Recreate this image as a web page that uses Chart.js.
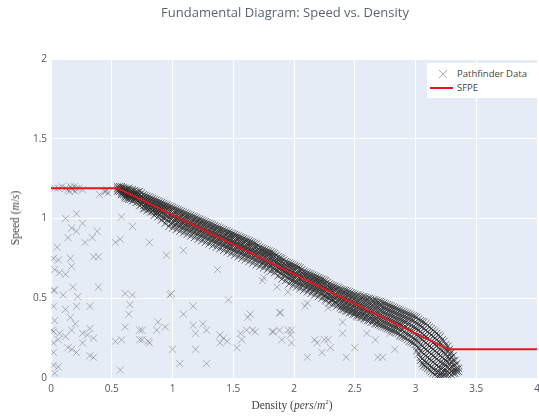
<!DOCTYPE html>
<html>
<head>
<meta charset="utf-8">
<script src="https://cdn.jsdelivr.net/npm/chart.js@4"></script>
<style>
  body { margin: 0; background: #fff; font-family: "Open Sans", sans-serif; }
  #wrap { position: relative; width: 539px; height: 419px; overflow: hidden; }
  #chart { position: absolute; left: 0; top: 0; }
  .title { position: absolute; top: 3px; left: 285px; transform: translateX(-50%); font-size: 13px; color: #5a6470; white-space: nowrap; }
  .xtitle { position: absolute; top: 398px; left: 292px; transform: translateX(-50%); font-family: "Liberation Serif", serif; font-size: 11.5px; color: #444; white-space: nowrap; }
  .ytitle { position: absolute; left: 15px; top: 218px; transform: translate(-50%, -50%) rotate(-90deg); font-family: "Liberation Serif", serif; font-size: 11.5px; color: #444; white-space: nowrap; }
  .xtitle i, .ytitle i { font-style: italic; }
  .legend { position: absolute; left: 427px; top: 63px; width: 112px; height: 35px; background: #fff; font-size: 9.5px; color: #444; }
  .legend .row { position: absolute; left: 0; height: 14px; line-height: 14px; }
  .legend span { position: absolute; left: 30px; white-space: nowrap; }
  .legend svg { position: absolute; left: 3px; top: 0; }
</style>
</head>
<body>
<div id="wrap">
  <canvas id="chart" width="543" height="419"></canvas>
  <div class="title">Fundamental Diagram: Speed vs. Density</div>
  <div class="xtitle">Density (<i>pers</i>/<i>m</i><sup style="font-size:7px">2</sup>)</div>
  <div class="ytitle">Speed (<i>m</i>/<i>s</i>)</div>
  <div class="legend">
    <div class="row" style="top:4px"><svg width="24" height="14"><path d="M9 3 L17 11 M17 3 L9 11" stroke="rgba(90,90,90,0.5)" stroke-width="1"/></svg><span>Pathfinder Data</span></div>
    <div class="row" style="top:18px"><svg width="24" height="14"><path d="M0 7 L23 7" stroke="#e8141c" stroke-width="2"/></svg><span>SFPE</span></div>
  </div>
</div>
<script>
// axis ticks
const xTicks = [0, 0.5, 1, 1.5, 2, 2.5, 3, 3.5, 4]
const yTicks = [0, 0.5, 1, 1.5, 2]

// SFPE reference curve
const sfpeDensity = [0, 0.55, 3.27, 4]
const sfpeSpeed = [1.19, 1.19, 0.18, 0.18]

// Pathfinder outliers: [density, speed]
const outlierPoints = [
  [0.03,1.19],[0.06,1.19],[0.09,1.2],[0.12,1.19],[0.14,1.18],[0.16,1.2],[0.17,1.19],[0.18,1.18],[0.19,1.2],
  [0.21,1.19],[0.23,1.19],[0.26,1.18],[0.15,1.17],[0.2,1.17],[0.44,1.17],[0.46,1.18],[0.47,1.16],[0.45,1.17],[0.40,1.15],
  [0.21,1.03],[0.12,1.0],[0.17,0.94],[0.26,0.97],[0.14,0.88],[0.21,0.92],[0.34,0.88],[0.38,0.92],[0.28,0.85],
  [0.05,0.82],[0.02,0.75],[0.06,0.74],[0.16,0.75],[0.17,0.70],[0.03,0.68],[0.07,0.66],[0.12,0.65],[0.35,0.76],
  [0.39,0.76],[0.57,0.87],[0.53,0.85],[0.58,1.01],[0.81,0.85],[0.67,0.95],[0.95,0.77],[1.09,0.80],[0.39,0.57],
  [0.03,0.55],[0.10,0.52],[0.18,0.57],[0.22,0.51],[0.61,0.53],[0.67,0.52],[0.98,0.52],[1.17,0.45],[1.46,0.49],
  [1.37,0.68],[1.89,0.41],[1.64,0.40],[0.02,0.45],[0.12,0.43],[0.21,0.45],[0.32,0.45],[0.16,0.38],[0.20,0.34],
  [0.03,0.36],[0.02,0.29],[0.07,0.28],[0.12,0.26],[0.17,0.30],[0.26,0.28],[0.32,0.31],[0.30,0.27],[0.35,0.25],
  [0.02,0.22],[0.06,0.24],[0.14,0.19],[0.17,0.18],[0.21,0.16],[0.26,0.22],[0.32,0.14],[0.35,0.13],[0.02,0.16],
  [0.02,0.08],[0.06,0.07],[0.03,0.03],[0.61,0.32],[0.64,0.40],[0.65,0.46],[0.53,0.23],[0.58,0.24],[0.73,0.30],
  [0.73,0.24],[0.80,0.23],[0.87,0.30],[0.88,0.35],[0.94,0.32],[1.0,0.18],[1.09,0.40],[1.17,0.33],[1.25,0.34],
  [1.28,0.30],[1.19,0.18],[1.06,0.09],[1.28,0.09],[0.57,0.05],[1.39,0.27],[1.42,0.25],[1.39,0.22],[1.45,0.23],
  [1.53,0.19],[1.56,0.28],[1.57,0.24],[1.61,0.30],[1.68,0.29],[1.83,0.29],[1.88,0.30],[1.90,0.24],[1.75,0.63],
  [0.99,0.53],[1.19,0.28],[1.62,0.38],[1.66,0.30],[1.82,0.29],[1.88,0.41],[1.98,0.30],[1.97,0.27],[1.98,0.22],
  [1.74,0.61],[1.86,0.57],[1.95,0.54],[2.11,0.47],[2.09,0.45],[2.17,0.24],[2.19,0.22],[2.23,0.16],[2.28,0.24],
  [2.30,0.19],[2.11,0.13],[2.40,0.35],[2.40,0.28],[2.43,0.13],[2.26,0.48],[2.28,0.44],[2.05,0.57],[1.95,0.30],
  [2.25,0.24],[2.50,0.19],[2.52,0.38],[2.60,0.28],[2.67,0.24],[2.69,0.13],[2.73,0.13],[2.83,0.18],[2.79,0.28],
  [2.87,0.26],[2.86,0.33],[3.06,0.07],[2.20,0.60],[0.75,0.30],[0.75,0.24],[0.81,0.22],[0.01,0.30],[0.02,0.55]
]

// dense Pathfinder band, one row per density: [density, [speeds...]]
const bandRows = [
  [0.55,[1.20,1.19,1.18,1.17]],[0.565,[1.20,1.185,1.17]],[0.58,[1.20,1.19,1.18,1.17,1.16,1.15]],
  [0.595,[1.195,1.18,1.165,1.15]],[0.61,[1.19,1.18,1.17,1.16,1.15,1.14,1.13]],[0.625,[1.185,1.17,1.155,1.14,1.125]],
  [0.64,[1.19,1.18,1.16,1.15,1.14,1.13,1.12]],[0.655,[1.18,1.165,1.15,1.135,1.12]],[0.67,[1.18,1.17,1.15,1.14,1.13,1.11]],
  [0.685,[1.175,1.16,1.145,1.13,1.115]],[0.70,[1.17,1.16,1.14,1.13,1.12,1.10]],[0.715,[1.165,1.15,1.135,1.12,1.105]],
  [0.73,[1.17,1.15,1.13,1.12,1.10,1.08]],[0.745,[1.16,1.14,1.12,1.105,1.09]],[0.76,[1.15,1.13,1.11,1.10,1.08,1.06]],
  [0.775,[1.145,1.125,1.105,1.085,1.065]],[0.79,[1.14,1.12,1.10,1.09,1.07,1.05]],[0.805,[1.135,1.115,1.095,1.075,1.055]],
  [0.82,[1.13,1.11,1.09,1.08,1.06,1.04]],[0.835,[1.125,1.105,1.085,1.065,1.045]],[0.85,[1.12,1.10,1.08,1.06,1.04,1.02]],
  [0.865,[1.115,1.095,1.075,1.055,1.035]],[0.88,[1.11,1.09,1.07,1.05,1.03,1.01]],[0.895,[1.105,1.085,1.065,1.045,1.025]],
  [0.91,[1.10,1.08,1.06,1.04,1.01,0.99]],[0.925,[1.095,1.075,1.05,1.03,1.005]],[0.94,[1.09,1.07,1.05,1.02,1.00,0.97]],
  [0.955,[1.085,1.06,1.04,1.015,0.99]],[0.97,[1.08,1.06,1.03,1.01,0.98,0.95]],[0.985,[1.075,1.05,1.025,1.00,0.97]],
  [1.00,[1.07,1.05,1.02,1.00,0.97,0.94]],[1.015,[1.065,1.04,1.015,0.99,0.96]],[1.03,[1.06,1.04,1.01,0.99,0.96,0.93]],
  [1.045,[1.055,1.03,1.005,0.98,0.955]],[1.06,[1.05,1.03,1.00,0.98,0.95,0.92]],[1.075,[1.045,1.02,0.995,0.97,0.945]],
  [1.09,[1.04,1.02,0.99,0.97,0.94,0.91]],[1.105,[1.035,1.01,0.985,0.96,0.935]],[1.12,[1.03,1.01,0.98,0.96,0.93,0.90]],
  [1.135,[1.025,1.00,0.975,0.95,0.925]],[1.15,[1.02,1.00,0.97,0.95,0.92,0.89]],[1.165,[1.015,0.99,0.965,0.94,0.915]],
  [1.18,[1.01,0.99,0.96,0.94,0.91,0.88]],[1.195,[1.005,0.98,0.955,0.93,0.905]],[1.21,[1.00,0.98,0.95,0.93,0.90,0.87]],
  [1.225,[0.995,0.97,0.945,0.92,0.895]],[1.24,[0.99,0.97,0.94,0.92,0.89,0.86]],[1.255,[0.985,0.96,0.935,0.91,0.885]],
  [1.27,[0.98,0.96,0.93,0.91,0.88,0.85]],[1.285,[0.975,0.95,0.925,0.90,0.875]],[1.30,[0.97,0.95,0.92,0.90,0.87,0.84]],
  [1.315,[0.965,0.94,0.915,0.89,0.865]],[1.33,[0.96,0.94,0.91,0.89,0.86,0.83]],[1.345,[0.955,0.93,0.905,0.88,0.855]],
  [1.36,[0.95,0.93,0.90,0.88,0.85,0.82]],[1.375,[0.945,0.92,0.895,0.87,0.845]],[1.39,[0.94,0.92,0.89,0.87,0.84,0.81]],
  [1.405,[0.935,0.91,0.885,0.86,0.835]],[1.42,[0.93,0.91,0.88,0.86,0.83,0.80]],[1.435,[0.925,0.90,0.875,0.85,0.825]],
  [1.45,[0.92,0.90,0.87,0.85,0.82,0.79]],[1.465,[0.915,0.89,0.865,0.84,0.815]],[1.48,[0.91,0.89,0.86,0.84,0.81,0.78]],
  [1.495,[0.905,0.88,0.855,0.83,0.805]],[1.51,[0.90,0.88,0.85,0.83,0.80,0.77]],[1.525,[0.895,0.87,0.845,0.82,0.795]],
  [1.54,[0.89,0.87,0.84,0.82,0.79,0.76]],[1.555,[0.885,0.86,0.835,0.81,0.785]],[1.57,[0.88,0.86,0.83,0.81,0.78,0.75]],
  [1.585,[0.875,0.85,0.825,0.80,0.775]],[1.60,[0.87,0.85,0.82,0.80,0.77,0.74]],[1.615,[0.865,0.84,0.815,0.79,0.765]],
  [1.63,[0.86,0.84,0.81,0.79,0.76,0.73]],[1.645,[0.855,0.83,0.805,0.78,0.755]],[1.66,[0.85,0.83,0.80,0.78,0.75,0.72]],
  [1.675,[0.845,0.82,0.795,0.77,0.745]],[1.69,[0.84,0.82,0.79,0.77,0.74,0.71]],[1.705,[0.83,0.81,0.785,0.76,0.735]],
  [1.72,[0.82,0.80,0.78,0.75,0.73,0.70]],[1.735,[0.815,0.795,0.77,0.745,0.72]],[1.75,[0.81,0.79,0.77,0.74,0.72,0.69]],
  [1.765,[0.805,0.785,0.76,0.735,0.71]],[1.78,[0.80,0.78,0.76,0.73,0.71,0.68]],[1.795,[0.795,0.775,0.75,0.725,0.70]],
  [1.81,[0.79,0.77,0.75,0.72,0.70,0.67]],[1.825,[0.785,0.76,0.74,0.715,0.69]],[1.84,[0.78,0.76,0.73,0.71,0.68,0.66]],
  [1.855,[0.77,0.75,0.725,0.70,0.675]],[1.87,[0.76,0.74,0.72,0.69,0.67,0.64]],[1.885,[0.755,0.73,0.71,0.685,0.66]],
  [1.90,[0.75,0.73,0.70,0.68,0.65,0.62]],[1.915,[0.74,0.72,0.695,0.67,0.645]],[1.93,[0.73,0.71,0.69,0.66,0.64,0.61]],
  [1.945,[0.725,0.70,0.68,0.655,0.63]],[1.96,[0.72,0.70,0.67,0.65,0.62,0.59]],[1.975,[0.715,0.69,0.665,0.64,0.615]],
  [1.99,[0.71,0.69,0.66,0.64,0.61,0.58]],[2.005,[0.705,0.68,0.655,0.63,0.605]],[2.02,[0.70,0.68,0.65,0.63,0.60,0.57]],
  [2.035,[0.695,0.67,0.645,0.62,0.595]],[2.05,[0.69,0.67,0.64,0.62,0.59,0.56]],[2.065,[0.68,0.66,0.635,0.61,0.585]],
  [2.08,[0.67,0.65,0.63,0.60,0.58,0.55]],[2.095,[0.665,0.645,0.62,0.595,0.57]],[2.11,[0.66,0.64,0.62,0.59,0.57,0.54]],
  [2.125,[0.655,0.635,0.61,0.585,0.56]],[2.14,[0.65,0.63,0.61,0.58,0.56,0.53]],[2.155,[0.645,0.625,0.60,0.575,0.55]],
  [2.17,[0.64,0.62,0.60,0.57,0.55,0.52]],[2.185,[0.635,0.615,0.59,0.565,0.54]],[2.20,[0.63,0.61,0.59,0.56,0.54,0.51]],
  [2.215,[0.625,0.605,0.58,0.555,0.53]],[2.23,[0.62,0.60,0.58,0.55,0.53,0.50]],[2.245,[0.615,0.59,0.565,0.54,0.515]],
  [2.26,[0.61,0.59,0.56,0.54,0.51,0.49]],[2.275,[0.60,0.58,0.555,0.53,0.505]],[2.29,[0.59,0.57,0.55,0.52,0.50,0.47]],
  [2.305,[0.585,0.565,0.54,0.515,0.49]],[2.32,[0.58,0.56,0.54,0.51,0.49,0.46]],[2.335,[0.575,0.55,0.525,0.50,0.475]],
  [2.35,[0.57,0.55,0.52,0.50,0.47,0.45]],[2.365,[0.565,0.54,0.515,0.49,0.46]],[2.38,[0.56,0.54,0.51,0.49,0.46,0.44]],
  [2.395,[0.555,0.53,0.505,0.48,0.455,0.43]],[2.41,[0.55,0.53,0.50,0.48,0.45,0.43]],[2.425,[0.55,0.525,0.50,0.47,0.445,0.42]],
  [2.44,[0.545,0.52,0.49,0.47,0.44,0.42]],[2.455,[0.54,0.515,0.49,0.46,0.435,0.41]],[2.47,[0.535,0.51,0.48,0.46,0.43,0.41]],
  [2.485,[0.53,0.505,0.48,0.45,0.425,0.40]],[2.50,[0.525,0.50,0.47,0.45,0.42,0.40]],[2.515,[0.52,0.495,0.47,0.44,0.415,0.39]],
  [2.53,[0.52,0.49,0.465,0.44,0.41,0.39]],[2.545,[0.515,0.49,0.46,0.435,0.41,0.38]],[2.56,[0.51,0.485,0.455,0.43,0.40,0.38]],
  [2.575,[0.51,0.48,0.45,0.425,0.40,0.37]],[2.59,[0.505,0.48,0.45,0.42,0.39,0.37]],[2.605,[0.50,0.475,0.445,0.415,0.39,0.36]],
  [2.62,[0.50,0.47,0.44,0.41,0.38,0.36]],[2.635,[0.495,0.465,0.435,0.405,0.38,0.35]],[2.65,[0.49,0.46,0.43,0.40,0.37,0.35]],
  [2.665,[0.49,0.46,0.43,0.40,0.37,0.34]],[2.68,[0.485,0.455,0.425,0.395,0.365,0.34]],[2.695,[0.48,0.45,0.42,0.39,0.36,0.335]],
  [2.71,[0.48,0.45,0.42,0.39,0.36,0.33]],[2.725,[0.475,0.445,0.415,0.385,0.355,0.325]],[2.74,[0.47,0.44,0.41,0.38,0.35,0.32]],
  [2.755,[0.465,0.435,0.405,0.375,0.345,0.315]],[2.77,[0.46,0.43,0.40,0.37,0.34,0.31]],[2.785,[0.455,0.425,0.395,0.365,0.335,0.305]],
  [2.80,[0.45,0.42,0.39,0.36,0.33,0.30]],[2.815,[0.445,0.415,0.385,0.355,0.325,0.295]],[2.83,[0.44,0.41,0.38,0.35,0.32,0.29]],
  [2.845,[0.435,0.405,0.375,0.345,0.315,0.285]],[2.86,[0.43,0.40,0.37,0.34,0.31,0.28]],[2.875,[0.425,0.395,0.365,0.335,0.30,0.27]],
  [2.89,[0.42,0.39,0.36,0.33,0.30,0.26]],[2.905,[0.415,0.385,0.355,0.32,0.29,0.255]],[2.92,[0.41,0.38,0.35,0.32,0.28,0.25]],
  [2.935,[0.405,0.375,0.34,0.31,0.275,0.24]],[2.95,[0.40,0.37,0.34,0.30,0.27,0.23]],[2.965,[0.395,0.365,0.33,0.295,0.26,0.225]],
  [2.98,[0.39,0.36,0.32,0.29,0.25,0.22]],[2.995,[0.385,0.35,0.315,0.28,0.245,0.21]],[3.01,[0.38,0.345,0.31,0.27,0.235,0.20,0.17]],
  [3.025,[0.37,0.335,0.30,0.26,0.225,0.19,0.15]],[3.04,[0.36,0.325,0.29,0.25,0.21,0.17,0.13,0.11]],
  [3.055,[0.355,0.32,0.28,0.24,0.20,0.16,0.12,0.09]],[3.07,[0.35,0.31,0.27,0.23,0.19,0.15,0.11,0.08]],
  [3.085,[0.34,0.30,0.26,0.22,0.18,0.14,0.10,0.07]],[3.10,[0.33,0.29,0.25,0.21,0.17,0.13,0.09,0.06]],
  [3.115,[0.32,0.28,0.24,0.20,0.16,0.12,0.08,0.05]],[3.13,[0.31,0.27,0.23,0.19,0.15,0.11,0.07,0.04]],
  [3.145,[0.30,0.26,0.22,0.18,0.14,0.10,0.06,0.03]],[3.16,[0.29,0.25,0.21,0.17,0.13,0.09,0.05,0.02]],
  [3.175,[0.28,0.24,0.20,0.16,0.12,0.08,0.04,0.01]],[3.19,[0.27,0.23,0.19,0.15,0.11,0.07,0.04,0.01]],
  [3.205,[0.26,0.22,0.18,0.14,0.10,0.06,0.03,0.01]],[3.22,[0.24,0.20,0.17,0.13,0.09,0.06,0.03,0.01]],
  [3.235,[0.23,0.19,0.16,0.12,0.09,0.05,0.02]],[3.25,[0.21,0.18,0.15,0.11,0.08,0.05,0.02]],
  [3.265,[0.20,0.17,0.13,0.10,0.07,0.04,0.02]],[3.28,[0.18,0.15,0.12,0.09,0.06,0.03]],
  [3.295,[0.16,0.13,0.10,0.07,0.04,0.02]],[3.31,[0.14,0.11,0.08,0.05,0.03]],[3.325,[0.11,0.08,0.05,0.03]],
  [3.34,[0.09,0.06,0.04]],[3.355,[0.06,0.04]]
]

const bandPoints = []
bandRows.forEach(r => r[1].forEach(v => bandPoints.push({ x: r[0], y: v })))

const plotBg = {
  id: 'plotBg',
  beforeDraw(chart) {
    const a = chart.chartArea
    chart.ctx.save()
    chart.ctx.fillStyle = '#e5ecf6'
    chart.ctx.fillRect(a.left, a.top, a.right - a.left, a.bottom - a.top)
    chart.ctx.restore()
  }
}

const tickFont = { family: 'Open Sans', size: 10 }

new Chart(document.getElementById('chart'), {
  type: 'scatter',
  data: {
    datasets: [
      {
        label: 'SFPE',
        type: 'line',
        data: sfpeDensity.map((d, i) => ({ x: d, y: sfpeSpeed[i] })),
        borderColor: '#e8141c',
        borderWidth: 2,
        pointRadius: 0,
        order: 0
      },
      {
        label: 'Pathfinder Data',
        data: bandPoints,
        pointStyle: 'crossRot',
        pointRadius: 5,
        borderColor: 'rgba(40,40,40,0.7)',
        borderWidth: 1,
        order: 1
      },
      {
        label: 'Pathfinder Data',
        data: outlierPoints.map(p => ({ x: p[0], y: p[1] })),
        pointStyle: 'crossRot',
        pointRadius: 5,
        borderColor: 'rgba(100,100,100,0.45)',
        borderWidth: 1,
        order: 2
      }
    ]
  },
  options: {
    responsive: false,
    animation: false,
    devicePixelRatio: 1,
    layout: { padding: { top: 59, right: 0, left: 0, bottom: 0 } },
    plugins: { legend: { display: false }, tooltip: { enabled: false } },
    scales: {
      x: {
        type: 'linear', min: 0, max: 4,
        afterFit: s => { s.height = 41; s.paddingLeft = 0; s.paddingRight = 0 },
        afterBuildTicks: s => { s.ticks = xTicks.map(v => ({ value: v })) },
        grid: { color: '#ffffff', lineWidth: 1, drawTicks: false },
        border: { display: false },
        ticks: { font: tickFont, color: '#556', padding: 5, callback: v => String(v) }
      },
      y: {
        type: 'linear', min: 0, max: 2,
        afterFit: s => { s.width = 51; s.paddingTop = 0; s.paddingBottom = 0 },
        afterBuildTicks: s => { s.ticks = yTicks.map(v => ({ value: v })) },
        grid: { color: '#ffffff', lineWidth: 1, drawTicks: false },
        border: { display: false },
        ticks: { font: tickFont, color: '#556', padding: 4, callback: v => String(v) }
      }
    }
  },
  plugins: [plotBg]
})
</script>
</body>
</html>
